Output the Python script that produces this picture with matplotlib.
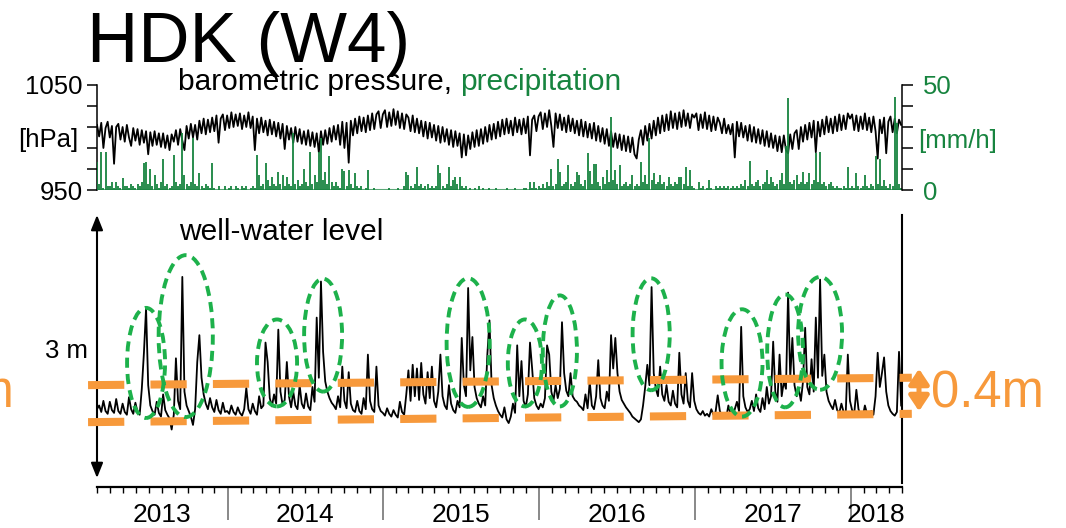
import numpy as np
import pandas as pd
import matplotlib
matplotlib.use("Agg")
import matplotlib.pyplot as plt
import matplotlib.dates as mdates
from matplotlib.patches import Ellipse, FancyArrowPatch

plt.rcParams['font.family'] = ['Liberation Sans', 'DejaVu Sans']

# ---- data (5-day samples from 2013-03-01) ----
start_date = "2013-03-01"
end_date = "2018-05-01"
step_days = 5

# barometric pressure [hPa]
pressure_2013 = [1012, 1001, 1014, 990, 1009, 1015, 1000, 1011, 975, 1010, 1013, 998,
                 1010, 996, 1012, 1000, 992, 1009, 997, 1008, 993, 1007, 995, 1006,
                 984, 1005, 992, 1006, 993, 1004, 991, 1004, 990, 1002, 988, 1003,
                 996, 1007, 993, 1008, 997, 988, 1011, 999, 1013, 1000, 1012, 998,
                 1016, 1004, 1018, 1003, 1017, 1005, 1019, 1006, 1021, 995, 1018, 1022, 1007]
pressure_2014 = [1021, 1009, 1024, 1010, 1022, 1011, 1023, 1008, 1021, 1010, 1024, 1009,
                 1020, 988, 1018, 1004, 1019, 1005, 1016, 1002, 1017, 1003, 1015, 1001,
                 1014, 999, 1013, 989, 1011, 998, 1009, 995, 1010, 996, 1008, 994,
                 1006, 993, 1007, 992, 1005, 991, 1004, 986, 1006, 993, 1007, 994,
                 1009, 996, 1011, 998, 1012, 993, 1015, 990, 1014, 976, 1016, 1002,
                 1018, 1004, 1020, 1006, 1019, 1005, 1021, 1007, 1023, 1008, 1022, 1025, 1009]
pressure_2015 = [1022, 1026, 1010, 1024, 1011, 1027, 1012, 1025, 1009, 1023, 1008, 1022,
                 1019, 1006, 1021, 1005, 1018, 1004, 1016, 1001, 1015, 999, 1014, 1000,
                 1012, 997, 1011, 995, 1010, 996, 1008, 993, 1007, 991, 1006, 992,
                 1004, 981, 1003, 983, 1002, 989, 1005, 991, 1007, 992, 1008, 994,
                 1010, 996, 1012, 998, 1013, 999, 1015, 1001, 1017, 1003, 1018, 1004,
                 1016, 1002, 1019, 1005, 1017, 1003, 1018, 1004, 1020, 983, 1017, 1021, 1006]
pressure_2016 = [1020, 1024, 1008, 1023, 1010, 1026, 1011, 991, 1023, 1009, 1022, 1007,
                 1019, 1005, 1021, 1006, 1018, 1004, 1016, 1002, 1017, 1001, 1015, 1000,
                 1013, 999, 1014, 997, 1011, 996, 1009, 994, 1008, 992, 1006, 991,
                 1004, 990, 1003, 988, 1002, 987, 1001, 986, 1000, 984, 980, 998,
                 1007, 993, 1011, 997, 1013, 999, 1016, 1002, 1019, 1004, 1021, 1006,
                 1022, 1007, 1025, 1009, 1023, 1008, 1024, 1010, 1026, 1011, 1023, 1009, 1022]
pressure_2017 = [1019, 1023, 1007, 1022, 1009, 1024, 1008, 1021, 1006, 1020, 1007, 1019,
                 1014, 1004, 1018, 1004, 1012, 1003, 1013, 981, 1015, 1001, 1014, 1000,
                 1011, 997, 1012, 996, 1010, 995, 1008, 994, 1007, 992, 1006, 991,
                 1004, 990, 1002, 987, 1001, 986, 1002, 988, 985, 1003, 989, 1004,
                 1007, 989, 1010, 996, 1012, 998, 1014, 1000, 1016, 986, 1015, 1001,
                 1017, 1003, 1020, 1005, 1018, 1004, 1020, 1006, 1022, 1007, 1021, 1008, 1023]
pressure_2018 = [1018, 1022, 1007, 1021, 1006, 1020, 1008, 1023, 1007, 1019, 1005, 1020,
                 1006, 980, 1017, 1004, 1019, 985, 1015, 1020, 1005, 1018, 1004, 1017, 1012]

# precipitation [mm/h]
rain_2013 = [13.5, 3, 18, 1, 18, 2, 2, 4, 1, 4, 2, 1, 5.5, 2, 2, 1, 3, 2, 1, 3,
             2, 4, 12.7, 13.5, 3, 10, 2, 7, 3, 1, 4, 15, 2, 3, 1, 2, 16.7, 4, 2, 3,
             27, 7, 3, 2, 4, 24.6, 3, 2, 8, 2, 1, 3, 2, 1, 12.7, 1, 0, 2, 0, 0, 2]
rain_2014 = [0, 1, 2, 0, 2, 1, 0, 2, 1, 2, 0, 1, 2, 1, 16.7, 7, 2, 3, 12.7, 5,
             2, 6, 3, 2, 8.7, 3, 7, 2, 6, 3, 2, 27, 3, 5, 2, 3, 10, 4, 2, 18,
             3, 7, 4, 18, 24.6, 5, 8.7, 3, 16, 4, 2, 4, 2, 1, 10, 9, 2, 9.5, 3, 1,
             8, 2, 1, 2, 0, 1, 9.5, 0, 0, 1, 0, 0, 0]
rain_2015 = [0, 0, 0, 1, 0, 0, 0, 1, 0, 0, 2, 8.7, 7, 2, 1, 3, 11, 2, 3, 1,
             2, 3, 1, 2, 1, 2, 12, 8, 2, 1, 3, 11, 2, 5, 6, 3, 6, 2, 1, 2,
             0, 1, 0, 1, 0, 2, 0, 1, 0, 0, 1, 0, 0, 1, 0, 0, 0, 0, 1, 0,
             0, 0, 1, 0, 0, 0, 1, 1, 0, 4, 1, 4, 1]
rain_2016 = [2, 1, 3, 1, 4, 2, 10, 2, 3, 15, 8.7, 2, 3, 4, 12, 3, 2, 4, 8.4, 7,
             3, 2, 5, 17.5, 9, 3, 12.2, 12.2, 4, 2, 6, 3, 9.5, 4, 35, 5, 9.5, 3, 12, 2,
             3, 4, 2, 3, 7, 2, 3, 2, 13.5, 4, 7, 3, 24.6, 5, 8, 3, 4, 7, 3, 4,
             2, 6, 3, 2, 4, 3, 6, 6, 3, 11, 2, 9.5, 2]
rain_2017 = [1, 0, 4, 1, 2, 0, 1, 5, 1, 0, 2, 1, 2, 1, 2, 1, 2, 1, 2, 1,
             2, 1, 3, 2, 5, 2, 14, 3, 2, 4, 5, 2, 3, 4, 9.5, 3, 6, 4, 2, 3,
             5, 8, 3, 21, 44, 4, 3, 5, 7, 3, 4, 8.7, 3, 4, 8, 3, 5, 17.5, 4, 18,
             3, 4, 2, 3, 4, 2, 1, 2, 1, 1, 2, 1, 11]
rain_2018 = [1, 2, 1, 8, 2, 1, 2, 7, 2, 1, 3, 2, 16, 3, 15, 2, 5, 2, 1, 3,
             2, 44.5, 32, 3, 1]

# well-water level [m]
level_2013 = [2.36, 2.40, 2.33, 2.45, 2.34, 2.31, 2.44, 2.35, 2.32, 2.47,
              2.34, 2.31, 2.42, 2.33, 2.30, 2.49, 2.36, 2.31, 2.43, 2.33,
              2.30, 2.58, 2.97, 3.45, 2.62, 2.40, 2.34, 2.30, 2.44, 2.32,
              2.28, 2.52, 2.35, 2.30, 2.26, 2.14, 2.30, 2.91, 2.45, 2.36,
              3.79, 2.55, 2.40, 2.34, 2.28, 2.19, 2.36, 2.87, 3.16, 2.70,
              2.52, 2.42, 2.36, 2.48, 2.38, 2.33, 2.46, 2.35, 2.31, 2.43, 2.33]
level_2014 = [2.34, 2.31, 2.40, 2.33, 2.30, 2.38, 2.32, 2.29, 2.36, 2.59,
              2.36, 2.31, 2.42, 2.34, 2.30, 2.50, 2.37, 2.40, 3.08, 2.87,
              2.48, 2.39, 2.52, 2.42, 3.22, 2.55, 2.41, 2.46, 2.87, 2.50,
              2.38, 2.55, 2.40, 2.36, 2.62, 2.42, 2.37, 2.53, 2.39, 2.35,
              2.60, 2.44, 3.35, 2.70, 3.74, 2.98, 2.66, 2.55, 2.48, 2.43,
              2.40, 2.36, 2.50, 2.38, 2.82, 2.45, 2.37, 2.76, 2.42, 2.35,
              2.33, 2.45, 2.34, 2.31, 2.48, 2.36, 2.95, 2.45, 2.36, 2.33,
              2.82, 2.40, 2.34]
level_2015 = [2.32, 2.29, 2.37, 2.31, 2.28, 2.35, 2.30, 2.27, 2.44, 2.33,
              2.30, 2.52, 2.78, 2.45, 2.84, 2.50, 2.80, 2.46, 2.86, 2.52,
              2.42, 2.76, 2.48, 2.82, 2.45, 2.38, 2.55, 2.95, 2.50, 2.40,
              2.36, 2.62, 2.42, 2.35, 2.32, 2.45, 2.38, 3.13, 2.62, 2.50,
              3.67, 2.78, 3.14, 2.60, 2.48, 2.42, 2.38, 2.50, 2.40, 2.95,
              3.32, 2.62, 2.48, 2.40, 2.34, 2.30, 2.27, 2.38, 2.25, 2.21,
              2.28, 2.42, 2.32, 3.05, 2.50, 2.88, 2.45, 2.38, 2.52, 3.08,
              2.80, 2.48, 2.40]
level_2016 = [2.36, 2.42, 2.38, 2.48, 3.05, 2.95, 2.55, 2.45, 2.62, 2.48,
              2.58, 3.30, 2.75, 2.56, 2.50, 2.75, 2.50, 2.46, 2.44, 2.40,
              2.38, 2.35, 2.52, 2.37, 2.66, 2.40, 2.36, 2.50, 2.89, 2.48,
              2.40, 2.37, 2.55, 2.45, 3.16, 2.80, 3.13, 2.75, 2.55, 2.46,
              2.42, 2.38, 2.35, 2.32, 2.28, 2.26, 2.24, 2.22, 2.25, 2.40,
              2.60, 2.84, 2.62, 3.68, 2.75, 2.58, 2.50, 2.82, 2.52, 2.45,
              2.62, 2.44, 2.40, 2.56, 2.42, 2.38, 2.97, 2.52, 2.42, 2.75,
              2.45, 2.38, 2.75]
level_2017 = [2.45, 2.36, 2.32, 2.30, 2.34, 2.29, 2.31, 2.28, 2.36, 2.30,
              2.33, 2.51, 2.34, 2.29, 2.32, 2.27, 2.40, 2.31, 2.28, 2.36,
              2.44, 2.34, 3.25, 2.50, 2.38, 2.33, 2.36, 2.45, 2.34, 2.52,
              2.37, 2.33, 2.48, 2.36, 2.60, 2.42, 2.50, 3.09, 2.55, 2.44,
              2.95, 2.50, 2.66, 2.58, 3.62, 2.70, 3.13, 2.62, 2.50, 2.58,
              2.45, 2.66, 3.24, 2.60, 2.52, 2.90, 2.55, 3.35, 2.70, 3.76,
              2.72, 2.95, 2.55, 2.45, 2.40, 2.36, 2.46, 2.35, 2.32, 2.42,
              2.33, 2.30, 2.95]
level_2018 = [2.45, 2.35, 2.31, 2.57, 2.36, 2.30, 2.28, 2.40, 2.31, 2.29,
              2.34, 2.30, 2.50, 2.97, 2.60, 2.75, 2.92, 2.55, 2.40, 2.34,
              2.31, 2.29, 2.33, 2.98, 2.40]

year_labels = ["2013", "2014", "2015", "2016", "2017", "2018"]

# highlighted rain responses: (centre date, centre level m, width days, height m)
highlights = [("2013-06-24", 2.86, 89, 1.19), ("2013-09-25", 3.15, 127, 1.75),
              ("2014-04-27", 2.86, 94, 0.94), ("2014-08-13", 3.16, 89, 1.22),
              ("2015-07-19", 3.08, 101, 1.39), ("2015-11-29", 2.86, 80, 0.94),
              ("2016-02-19", 2.99, 80, 1.20), ("2016-09-20", 3.17, 87, 1.21),
              ("2017-04-21", 2.86, 96, 1.16), ("2017-07-31", 2.99, 84, 1.22),
              ("2017-10-21", 3.18, 103, 1.22)]

# 0.4 m fluctuation band: (start date, end date), levels at start/end
band_dates = ("2013-02-08", "2018-05-24")
band_top = (2.62, 2.70)
band_bottom = (2.22, 2.31)
band_label = "0.4m"

pressure = np.concatenate([pressure_2013, pressure_2014, pressure_2015,
                           pressure_2016, pressure_2017, pressure_2018])
rain = np.concatenate([rain_2013, rain_2014, rain_2015, rain_2016, rain_2017, rain_2018])
level = np.concatenate([level_2013, level_2014, level_2015, level_2016, level_2017, level_2018])
assert len(pressure) == len(rain) == len(level), (len(pressure), len(rain), len(level))

dates = pd.Timestamp(start_date) + pd.to_timedelta(np.arange(len(level)) * step_days, unit="D")
x = mdates.date2num(dates.to_pydatetime())
x0 = mdates.date2num(pd.Timestamp(start_date))
x1 = mdates.date2num(pd.Timestamp(end_date))

black = "black"
rain_green = "#17843F"
oval_green = "#1DB14B"
orange = "#F7993B"

W, H = 1066, 528
fig = plt.figure(figsize=(W / 100, H / 100), dpi=100)


def box(l, t, r, b):
    return [l / W, 1 - b / H, (r - l) / W, (b - t) / H]


# ---- top panel: pressure and precipitation ----
ax_p = fig.add_axes(box(97, 85, 902, 190))
ax_p.plot(x, pressure, color=black, lw=1.3)
ax_p.set_xlim(x0, x1)
ax_p.set_ylim(950, 1050)
for s in ["top", "right", "bottom"]:
    ax_p.spines[s].set_visible(False)
ax_p.spines["left"].set_linewidth(1.1)
ax_p.set_yticks([950, 1050])
ax_p.set_yticks([970, 990, 1010, 1030], minor=True)
ax_p.tick_params(axis="y", which="both", length=7, width=1.1, labelsize=18.5, pad=3.5)
ax_p.tick_params(axis="x", which="both", bottom=False, labelbottom=False)

ax_r = ax_p.twinx()
ax_r.vlines(x, 0, rain, color=rain_green, lw=1.3)
ax_r.axhline(0, color=rain_green, lw=1.5, alpha=0.7)
ax_r.set_ylim(0, 50)
ax_r.set_xlim(x0, x1)
for s in ["top", "left", "bottom"]:
    ax_r.spines[s].set_visible(False)
ax_r.spines["right"].set_linewidth(1.1)
ax_r.set_yticks([0, 50])
ax_r.set_yticks([10, 20, 30, 40], minor=True)
ax_r.tick_params(axis="y", which="both", length=8, width=1.1, labelsize=18.5,
                 labelcolor=rain_green, pad=7)

fig.text(78 / W, 1 - 140 / H, "[hPa]", fontsize=18.5, ha="right", va="center")
fig.text(918 / W, 1 - 141 / H, "[mm/h]", fontsize=18.5, ha="left", va="center",
         color=rain_green)
t1 = fig.text(178 / W, 1 - 90 / H, "barometric pressure,", fontsize=21.5,
              ha="left", va="baseline")
ax_p.annotate("precipitation", xy=(1, 0), xycoords=t1, xytext=(6, 0),
              textcoords="offset points", fontsize=21.5, color=rain_green,
              ha="left", va="bottom")

fig.text(87 / W, 1 - 62 / H, "HDK (W4)", fontsize=51, ha="left", va="baseline")

# ---- bottom panel: well-water level ----
ax_w = fig.add_axes(box(97, 215, 902, 487))
ax_w.plot(x, level, color=black, lw=1.3, zorder=2)
ax_w.set_xlim(x0, x1)
ax_w.set_ylim(1.519, 4.459)
for s in ["top", "right", "left"]:
    ax_w.spines[s].set_visible(False)
ax_w.spines["bottom"].set_linewidth(1.6)
ax_w.set_yticks([])
ax_w.xaxis.set_major_locator(mdates.YearLocator())
ax_w.xaxis.set_minor_locator(mdates.MonthLocator())
ax_w.tick_params(axis="x", which="major", length=24, width=1.3, color="#7f7f7f",
                 labelbottom=False)
ax_w.tick_params(axis="x", which="minor", length=4, width=1.0, color=black)

year_edges = [x0] + [mdates.date2num(pd.Timestamp(f"{y}-01-01")) for y in year_labels[1:]] + [x1]
for i, lab in enumerate(year_labels):
    ax_w.text((year_edges[i] + year_edges[i + 1]) / 2, -0.128, lab, fontsize=19,
              ha="center", va="baseline", transform=ax_w.get_xaxis_transform())

ax_w.annotate("", xy=(0, 1), xytext=(0, 0.033), xycoords="axes fraction",
              arrowprops=dict(arrowstyle="<|-|>,head_length=0.5,head_width=0.2",
                              color=black, lw=1.5, mutation_scale=18,
                              shrinkA=0, shrinkB=0),
              annotation_clip=False)
ax_w.plot([1, 1], [0.015, 1], transform=ax_w.transAxes, color=black, lw=1.5,
          clip_on=False)

fig.text(88 / W, 1 - 358 / H, "3 m", fontsize=18.5, ha="right", va="baseline")
fig.text(179 / W, 1 - 240 / H, "well-water level", fontsize=21.5, ha="left",
         va="baseline")

# 0.4 m band
bx = [mdates.date2num(pd.Timestamp(d)) for d in band_dates]
for lv in (band_top, band_bottom):
    ax_w.plot(bx, lv, color=orange, lw=5.8, dashes=(4.5, 3.25),
              solid_capstyle="butt", dash_capstyle="butt", clip_on=False, zorder=3)

# highlighted events
for d, lv, wd, hm in highlights:
    ax_w.add_patch(Ellipse((mdates.date2num(pd.Timestamp(d)), lv), wd, hm, fill=False,
                           edgecolor=oval_green, lw=2.8, linestyle=(0, (2.6, 1.6)),
                           clip_on=False, zorder=4))

arr = FancyArrowPatch((919 / W, 1 - 414 / H), (919 / W, 1 - 366 / H),
                      transform=fig.transFigure,
                      arrowstyle="<|-|>,head_length=0.45,head_width=0.3",
                      mutation_scale=20, lw=3.6, color=orange)
fig.patches.append(arr)
fig.text(931 / W, 1 - 408 / H, band_label, fontsize=36.5, color=orange,
         ha="left", va="baseline")
fig.text(14 / W, 1 - 408 / H, band_label, fontsize=36.5, color=orange,
         ha="right", va="baseline")

fig.savefig("out.png", dpi=100)
